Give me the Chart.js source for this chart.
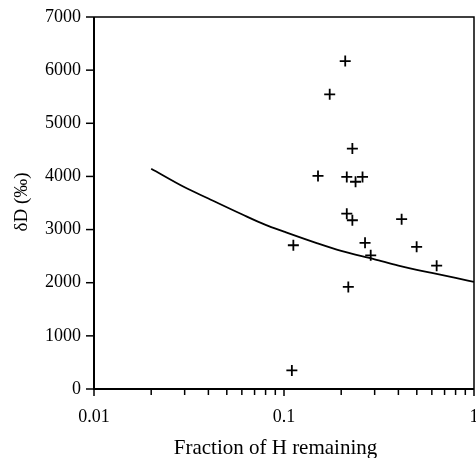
<!DOCTYPE html>
<html>
<head>
<meta charset="utf-8">
<script src="https://cdn.jsdelivr.net/npm/chart.js@4"></script>
<style>
html,body{margin:0;padding:0;background:#fff;}
#wrap{width:476px;height:458px;}
</style>
</head>
<body>
<div id="wrap"><canvas id="c" width="476" height="458"></canvas></div>
<script>
// Sample data: fraction of H remaining (x) and δD (y)
const sampleFraction = [0.210, 0.174, 0.229, 0.151, 0.214, 0.259, 0.238, 0.214, 0.229, 0.416, 0.112, 0.267, 0.499, 0.286, 0.636, 0.218, 0.110];
const sampleDeltaD   = [6170, 5545, 4525, 4010, 3990, 3990, 3900, 3300, 3175, 3195, 2705, 2750, 2675, 2515, 2320, 1920, 350];
// Model curve
const curveFraction = [0.02, 0.03, 0.04, 0.06, 0.08, 0.1, 0.15, 0.2, 0.3, 0.4, 0.5, 0.6, 0.8, 1.0];
const curveDeltaD   = [4145, 3795, 3584, 3288, 3088, 2962, 2742, 2600, 2440, 2321, 2242, 2186, 2092, 2016];
// Axis ticks
const yTicks = [0, 1000, 2000, 3000, 4000, 5000, 6000, 7000];
const xMajorTicks = [0.01, 0.1, 1];
const xMajorLabels = ['0.01', '0.1', '1'];
const xTitle = 'Fraction of H remaining';
const yTitle = 'δD (‰)';

const FONT = '"Liberation Serif", "Times New Roman", serif';

const axesPlugin = {
  id: 'customAxes',
  afterDraw(chart) {
    const ctx = chart.ctx;
    const xs = chart.scales.x, ys = chart.scales.y;
    const a = chart.chartArea;
    ctx.save();
    ctx.strokeStyle = '#000';
    ctx.fillStyle = '#000';
    // frame
    ctx.lineWidth = 1.5;
    ctx.beginPath();
    ctx.moveTo(a.left, a.top); ctx.lineTo(a.right, a.top); ctx.lineTo(a.right, a.bottom);
    ctx.stroke();
    ctx.lineWidth = 2;
    ctx.beginPath();
    ctx.moveTo(a.left, a.top); ctx.lineTo(a.left, a.bottom); ctx.lineTo(a.right, a.bottom);
    ctx.stroke();
    // y ticks
    ctx.lineWidth = 1.5;
    ctx.font = '18px ' + FONT;
    ctx.textAlign = 'right';
    ctx.textBaseline = 'middle';
    yTicks.forEach(v => {
      const y = ys.getPixelForValue(v);
      ctx.beginPath(); ctx.moveTo(a.left - 8, y); ctx.lineTo(a.left, y); ctx.stroke();
      ctx.fillText(String(v), a.left - 13, y);
    });
    // x ticks (major + minor)
    for (let d = 0; d < xMajorTicks.length - 1; d++) {
      for (let m = 1; m <= 9; m++) {
        const v = xMajorTicks[d] * m;
        const x = xs.getPixelForValue(v);
        ctx.beginPath(); ctx.moveTo(x, a.bottom); ctx.lineTo(x, a.bottom + (m === 1 ? 7 : 6)); ctx.stroke();
      }
    }
    {
      const x = xs.getPixelForValue(xMajorTicks[xMajorTicks.length - 1]);
      ctx.beginPath(); ctx.moveTo(x, a.bottom); ctx.lineTo(x, a.bottom + 7); ctx.stroke();
    }
    ctx.textAlign = 'center';
    ctx.textBaseline = 'middle';
    xMajorTicks.forEach((v, i) => {
      ctx.fillText(xMajorLabels[i], xs.getPixelForValue(v), a.bottom + 28);
    });
    // titles
    ctx.font = '21px ' + FONT;
    ctx.textBaseline = 'alphabetic';
    ctx.fillText(xTitle, 275.5, 454);
    ctx.save();
    ctx.translate(27, 202);
    ctx.rotate(-Math.PI / 2);
    ctx.font = '19px ' + FONT;
    ctx.textBaseline = 'alphabetic';
    ctx.fillText(yTitle, 0, 0);
    ctx.restore();
    ctx.restore();
  }
};

new Chart(document.getElementById('c'), {
  type: 'scatter',
  data: {
    datasets: [
      {
        label: 'model',
        type: 'line',
        data: curveFraction.map((f, i) => ({x: f, y: curveDeltaD[i]})),
        borderColor: '#000',
        borderWidth: 1.8,
        pointRadius: 0,
        fill: false,
        cubicInterpolationMode: 'monotone'
      },
      {
        label: 'samples',
        data: sampleFraction.map((f, i) => ({x: f, y: sampleDeltaD[i]})),
        pointStyle: 'cross',
        pointRadius: 5.5,
        pointHoverRadius: 5.5,
        borderColor: '#000',
        backgroundColor: '#000',
        pointBorderWidth: 1.8,
        borderWidth: 1.8
      }
    ]
  },
  options: {
    responsive: false,
    devicePixelRatio: 1,
    animation: false,
    events: [],
    layout: { autoPadding: false, padding: { top: 17, right: 2, left: 0, bottom: 0 } },
    plugins: { legend: { display: false }, tooltip: { enabled: false } },
    scales: {
      x: {
        type: 'logarithmic', min: 0.01, max: 1,
        grid: { display: false }, border: { display: false },
        ticks: { display: false },
        afterFit(s) { s.height = 69; }
      },
      y: {
        type: 'linear', min: 0, max: 7000,
        grid: { display: false }, border: { display: false },
        ticks: { display: false },
        afterFit(s) { s.width = 94; }
      }
    }
  },
  plugins: [axesPlugin]
});
</script>
</body>
</html>
